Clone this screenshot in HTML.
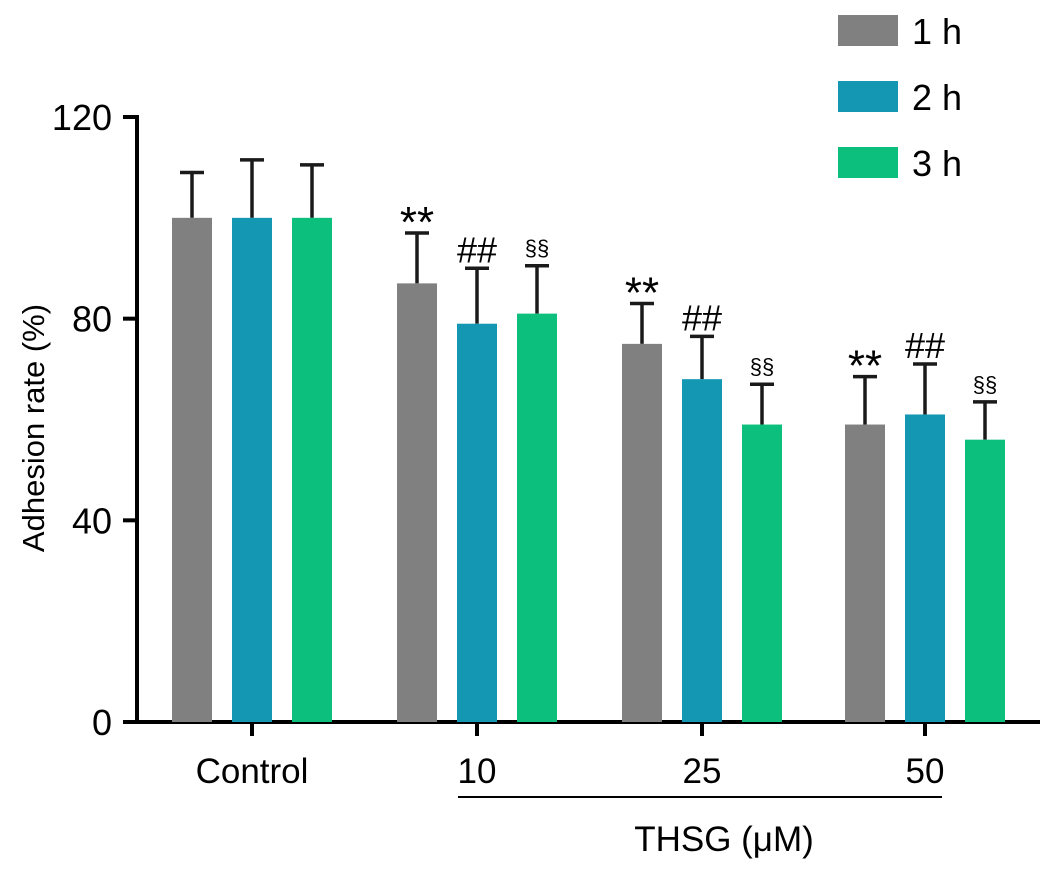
<!DOCTYPE html>
<html><head><meta charset="utf-8"><style>
body{margin:0;background:#fff}
svg{display:block;font-family:"Liberation Sans",Arial,sans-serif}
</style></head><body>
<svg id="chart" width="1063" height="871" viewBox="0 0 1063 871"></svg>
<script>
const groups=["Control","10","25","50"];
const seriesNames=["1 h","2 h","3 h"];
const colors=["#808080","#1497b3","#0dbf7c"];
const means=[[100,87,75,59],[100,79,68,61],[100,81,59,56]];
const errs=[[9,10,8,9.5],[11.5,11,8.5,10],[10.5,9.5,8,7.5]];
const marks=[["","**","**","**"],["","##","##","##"],["","§§","§§","§§"]];
const yTicks=[0,40,80,120];
const NS="http://www.w3.org/2000/svg";
const svg=document.getElementById("chart");
function el(t,a,p){const e=document.createElementNS(NS,t);for(const k in a)e.setAttribute(k,a[k]);(p||svg).appendChild(e);return e;}
const y0=722,y120=117;
function y(v){return y0-(y0-y120)*v/120;}
const groupX=[252,477,702,925],barW=40,step=60;
function bx(g,s){return groupX[g]+(s-1)*step-barW/2;}
let a=el("line",{x1:137,y1:y120-2,x2:137,y2:y0+1,stroke:"#000","stroke-width":4});

a=el("line",{x1:123,y1:y0,x2:1040,y2:y0,stroke:"#000","stroke-width":4});

yTicks.forEach(t=>{
 el("line",{x1:123,y1:y(t),x2:137,y2:y(t),stroke:"#000","stroke-width":4});
 const tx=el("text",{x:112,y:y(t)+13,"text-anchor":"end","font-size":36});tx.textContent=t;
 
});
const yt=el("text",{x:44,y:428,"text-anchor":"middle","font-size":31,transform:"rotate(-90 44 428)"});
yt.textContent="Adhesion rate (%)";
groups.forEach((g,i)=>{
 el("line",{x1:groupX[i],y1:y0,x2:groupX[i],y2:y0+14,stroke:"#000","stroke-width":4});
 const tx=el("text",{x:groupX[i],y:783,"text-anchor":"middle","font-size":35});tx.textContent=g;
 
});
el("line",{x1:458,y1:797,x2:942,y2:797,stroke:"#000","stroke-width":2});
const xt=el("text",{x:724,y:851,"text-anchor":"middle","font-size":35});xt.textContent="THSG (μM)";

for(let s=0;s<3;s++)for(let g=0;g<4;g++){
 const x=bx(g,s),top=y(means[s][g]),et=y(means[s][g]+errs[s][g]);
 const cx=x+barW/2;
 const e1=el("line",{x1:cx,y1:top,x2:cx,y2:et,stroke:"#1a1a1a","stroke-width":3.5});
 
 el("line",{x1:cx-12,y1:et,x2:cx+12,y2:et,stroke:"#1a1a1a","stroke-width":3.5});
 const r=el("rect",{x:x,y:top,width:barW,height:y0-top,fill:colors[s]});
 
 
 if(marks[s][g]){
  const small=s==2;
  const m=el("text",{x:cx,y:et-(small?10:(s==0?-4:6)),"text-anchor":"middle","font-size":small?22:(s==0?44:36)});
  m.textContent=marks[s][g];
  
 }
}
seriesNames.forEach((n,i)=>{
 const ly=15+i*66;
 const r=el("rect",{x:838,y:ly,width:60,height:31,fill:colors[i]});
 
 const t=el("text",{x:912,y:ly+29,"font-size":36});t.textContent=n;
 
});
</script>
</body></html>
